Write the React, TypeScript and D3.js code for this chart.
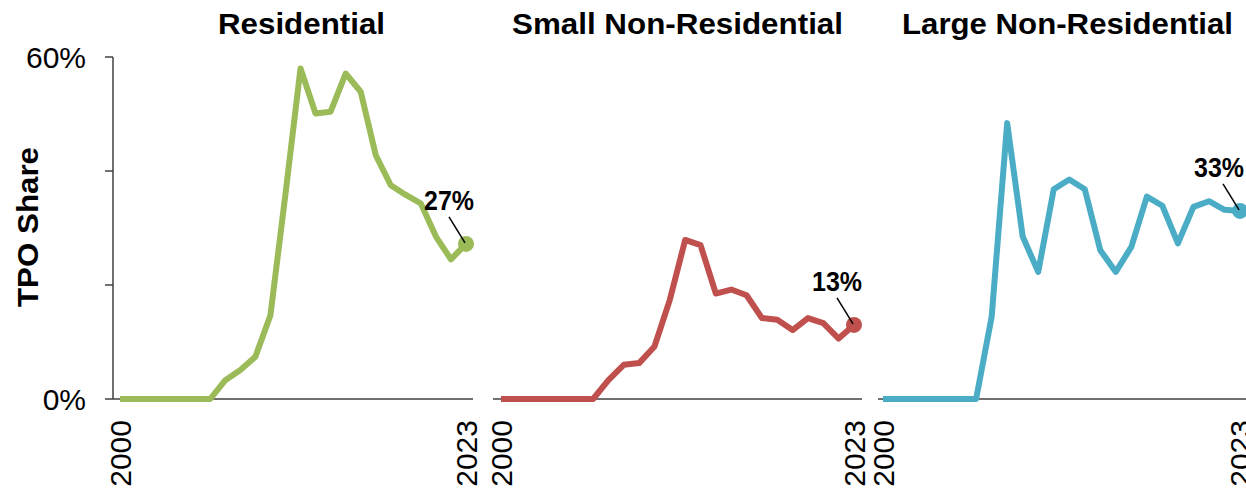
import React from "react";
import * as d3 from "d3";

const years: number[] = d3.range(2000, 2024);
const residential: number[] = [0, 0, 0, 0, 0, 0, 0, 3.3, 5.1, 7.4, 14.7, 36, 58.0, 50.1, 50.4, 57.1, 53.9, 42.8, 37.5, 35.8, 34.3, 28.5, 24.5, 27.2];
const smallNonRes: number[] = [0, 0, 0, 0, 0, 0, 0, 3.3, 6.0, 6.3, 9.2, 17.4, 27.9, 27.0, 18.5, 19.2, 18.2, 14.2, 13.9, 12.1, 14.2, 13.3, 10.6, 13.0];
const largeNonRes: number[] = [0, 0, 0, 0, 0, 0, 0, 14.4, 48.4, 28.5, 22.3, 36.8, 38.5, 36.8, 26.1, 22.3, 26.7, 35.5, 33.9, 27.3, 33.7, 34.7, 33.2, 33.0];
const panelTitles: string[] = ["Residential", "Small Non-Residential", "Large Non-Residential"];
const endLabels: string[] = ["27%", "13%", "33%"];
const yTicks: number[] = [0, 20, 40, 60];
const yTickLabels: string[] = ["0%", "", "", "60%"];
const xTickYears: number[] = [2000, 2023];

const colors = ["#9BBB59", "#C0504D", "#4BACC6"];
const seriesList = [residential, smallNonRes, largeNonRes];
const panels = [
  { x0: 120, x1: 466, axL: 113, axR: 473, titleX: 301.5, titleW: 167 },
  { x0: 501, x1: 854, axL: 493, axR: 862, titleX: 677.5, titleW: 331 },
  { x0: 883, x1: 1240, axL: 878, axR: 1250, titleX: 1067.5, titleW: 331 },
];

const FONT = "'Liberation Sans', Arial, sans-serif";

export default function App() {
  const W = 1246, H = 493;
  const y = d3.scaleLinear().domain([0, 60]).range([399, 57]);
  const axisColor = "#404040";

  return (
    <svg width={W} height={H} style={{ position: "absolute", left: 0, top: 0, background: "#fff" }} fontFamily={FONT}>
      <line x1={113} x2={113} y1={y(0)} y2={y(60)} stroke={axisColor} strokeWidth={1.5} />
      {yTicks.map((t, i) => (
        <g key={t}>
          <line x1={105} x2={113} y1={y(t)} y2={y(t)} stroke={axisColor} strokeWidth={1.5} />
          {yTickLabels[i] && (
            <text x={86} y={y(t)} dy="0.36em" textAnchor="end" fontSize={30} fill="#000">
              {yTickLabels[i]}
            </text>
          )}
        </g>
      ))}
      <text transform={`translate(38,227) rotate(-90)`} textAnchor="middle" fontSize={30} fontWeight="bold" fill="#000" textLength={160} lengthAdjust="spacingAndGlyphs">
        TPO Share
      </text>

      {panels.map((p, pi) => {
        const x = d3.scaleLinear().domain([2000, 2023]).range([p.x0, p.x1]);
        const vals = seriesList[pi];
        const line = d3.line<number>().x((_, i) => x(years[i])).y((d) => y(d));
        const lx = x(2023), ly = y(vals[vals.length - 1]);
        const tx = Math.min(lx - 17, W - 27);
        return (
          <g key={pi}>
            <line x1={p.axL} x2={p.axR} y1={y(0)} y2={y(0)} stroke={axisColor} strokeWidth={1.5} />
            <text x={p.titleX} y={34} textAnchor="middle" fontSize={29} fontWeight="bold" fill="#000" textLength={p.titleW} lengthAdjust="spacingAndGlyphs">
              {panelTitles[pi]}
            </text>
            {xTickYears.map((yr) => (
              <text key={yr} transform={`translate(${x(yr)},420) rotate(-90)`} dy="0.36em" textAnchor="end" fontSize={30} fill="#000">
                {yr}
              </text>
            ))}
            <path d={line(vals) || ""} fill="none" stroke={colors[pi]} strokeWidth={6} strokeLinejoin="round" />
            <circle cx={lx} cy={ly} r={8} fill={colors[pi]} />
            <line x1={lx - 17} y1={ly - 27} x2={lx - 1} y2={ly - 1} stroke="#000" strokeWidth={1.5} />
            <text x={tx} y={ly - 34} textAnchor="middle" fontSize={27} fontWeight="bold" fill="#000" textLength={50} lengthAdjust="spacingAndGlyphs">
              {endLabels[pi]}
            </text>
          </g>
        );
      })}
    </svg>
  );
}
